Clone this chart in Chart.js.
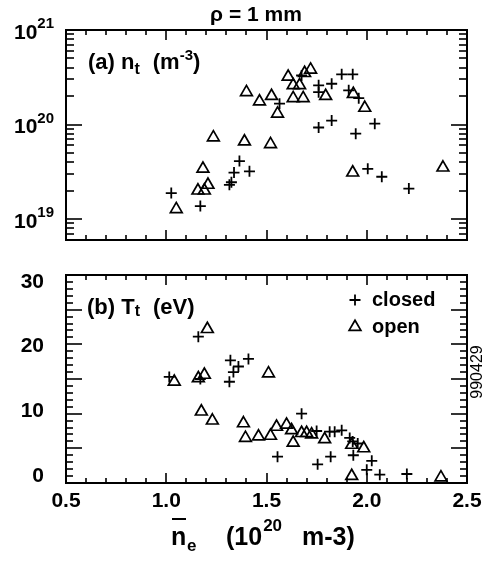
<!DOCTYPE html>
<html>
<head>
<meta charset="utf-8">
<script src="https://cdn.jsdelivr.net/npm/chart.js@4.4.1/dist/chart.umd.min.js"></script>
<style>
  html, body { margin: 0; padding: 0; background: #fff; }
  #wrap { position: relative; width: 482px; height: 562px; }
  canvas { position: absolute; left: 0; }
</style>
</head>
<body>
<div id="wrap">
  <canvas id="topChart" width="482" height="250" style="top:0;width:482px;height:250px"></canvas>
  <canvas id="botChart" width="482" height="312" style="top:250px;width:482px;height:312px"></canvas>
</div>
<script>
// (a) n_t vs line-averaged density, closed divertor
const neClosedA = [1.025, 1.17, 1.315, 1.325, 1.338, 1.365, 1.415, 1.565, 1.675, 1.76, 1.76, 1.825,
  1.875, 1.93, 1.91, 1.96, 1.76, 1.825, 1.945, 2.04, 2.005, 2.075, 2.21];
const ntClosed = [1.88e19, 1.37e19, 2.3e19, 2.45e19, 3.1e19, 4.1e19, 3.2e19, 1.66e20, 3.3e20, 2.6e20, 2.2e20, 2.7e20,
  3.4e20, 3.4e20, 2.3e20, 1.9e20, 9.3e19, 1.1e20, 8.0e19, 1.02e20, 3.4e19, 2.8e19, 2.1e19];

// (a) n_t, open divertor
const neOpenA = [1.05, 1.158, 1.183, 1.19, 1.208, 1.235, 1.39, 1.40, 1.465, 1.52, 1.525, 1.555, 1.608, 1.633,
  1.633, 1.665, 1.683, 1.69, 1.72, 1.795, 1.933, 1.99, 1.93, 2.38];
const ntOpen = [1.27e19, 2.0e19, 3.4e19, 2.0e19, 2.3e19, 7.3e19, 6.6e19, 2.2e20, 1.75e20, 6.2e19, 2.0e20, 1.3e20, 3.2e20, 2.6e20,
  1.9e20, 2.6e20, 1.9e20, 3.5e20, 3.8e20, 2.0e20, 2.1e20, 1.5e20, 3.1e19, 3.5e19];

// (b) T_t, closed divertor
const neClosedB = [1.015, 1.16, 1.17, 1.32, 1.335, 1.36, 1.41, 1.315, 1.555, 1.675, 1.75, 1.755, 1.815, 1.82,
  1.84, 1.875, 1.915, 1.93, 1.955, 1.933, 2.0, 2.025, 2.065, 2.2];
const ttClosed = [15.3, 21.1, 15.0, 17.7, 16.0, 16.8, 17.9, 14.6, 3.8, 10.0, 7.5, 2.7, 7.4, 3.8,
  7.4, 7.6, 6.5, 6.0, 5.7, 4.0, 1.9, 3.2, 1.2, 1.3];

// (b) T_t, open divertor
const neOpenB = [1.04, 1.16, 1.19, 1.205, 1.175, 1.23, 1.385, 1.395, 1.46, 1.52, 1.51, 1.55, 1.6, 1.625,
  1.633, 1.675, 1.70, 1.725, 1.79, 1.925, 1.985, 1.925, 2.37];
const ttOpen = [14.6, 15.1, 15.6, 22.2, 10.3, 9.0, 8.6, 6.5, 6.7, 6.8, 15.8, 8.1, 8.4, 7.6,
  5.8, 7.2, 7.2, 7.0, 6.3, 5.5, 5.0, 1.0, 0.8];

const xTickLabels = ['0.5', '1.0', '1.5', '2.0', '2.5'];
const nTickExps = [19, 20, 21];
const tTickLabels = ['0', '10', '20', '30'];
const legendLabels = ['closed', 'open'];

const FONT = '"Liberation Sans", Arial, Helvetica, sans-serif';
const pts = (xs, ys) => xs.map((x, i) => ({ x: x, y: ys[i] }));

function crossSet(data) {
  return { data: data, pointStyle: 'cross', pointRadius: 5.5, borderWidth: 1.8,
    borderColor: '#000', backgroundColor: '#000', showLine: false };
}
function triSet(data) {
  return { data: data, pointStyle: 'triangle', pointRadius: 6.8, borderWidth: 1.7,
    borderColor: '#000', backgroundColor: 'rgba(0,0,0,0)', showLine: false };
}

function line(ctx, x1, y1, x2, y2) {
  ctx.beginPath(); ctx.moveTo(x1, y1); ctx.lineTo(x2, y2); ctx.stroke();
}

// text made of pieces: [text, size, dy, dx]
function rich(ctx, x, y, parts, align) {
  let w = 0;
  parts.forEach(p => { ctx.font = 'bold ' + p[1] + 'px ' + FONT; w += (p[3] || 0) + ctx.measureText(p[0]).width; });
  let cx = align === 'right' ? x - w : align === 'center' ? x - w / 2 : x;
  ctx.textAlign = 'left';
  ctx.textBaseline = 'middle';
  parts.forEach(p => {
    ctx.font = 'bold ' + p[1] + 'px ' + FONT;
    cx += p[3] || 0;
    ctx.fillText(p[0], cx, y + (p[2] || 0));
    cx += ctx.measureText(p[0]).width;
  });
}

function xTicks(ctx, sx, a) {
  for (let i = 0; i <= 20; i++) {
    const px = Math.round(sx.getPixelForValue(0.5 + i * 0.1));
    const len = i % 5 === 0 ? 10 : 5;
    line(ctx, px, a.bottom, px, a.bottom - len);
    line(ctx, px, a.top, px, a.top + len);
  }
}

const framePlugin = {
  id: 'frame',
  afterDatasetsDraw(chart, args, opts) {
    const ctx = chart.ctx, a = chart.chartArea;
    const sx = chart.scales.x, sy = chart.scales.y;
    ctx.save();
    ctx.strokeStyle = '#000';
    ctx.fillStyle = '#000';
    ctx.lineWidth = 1.6;
    xTicks(ctx, sx, a);
    if (opts.kind === 'log') {
      for (let e = 18; e <= 20; e++) {
        for (let m = 1; m <= 9; m++) {
          const v = m * Math.pow(10, e);
          if (v < sy.min || v > sy.max) continue;
          const py = Math.round(sy.getPixelForValue(v));
          const len = m === 1 ? 16 : 8;
          line(ctx, a.left, py, a.left + len, py);
          line(ctx, a.right, py, a.right - len, py);
        }
      }
    } else {
      for (let v = 0; v <= 30; v++) {
        const py = Math.round(sy.getPixelForValue(v));
        const len = v % 5 === 0 ? 16 : 7;
        line(ctx, a.left, py, a.left + len, py);
        line(ctx, a.right, py, a.right - len, py);
      }
    }
    ctx.lineWidth = 2;
    ctx.strokeRect(a.left, a.top, a.right - a.left, a.bottom - a.top);

    if (opts.kind === 'log') {
      nTickExps.forEach(e => {
        const py = sy.getPixelForValue(Math.pow(10, e));
        rich(ctx, 54, py + 3, [['10', 21, 0], [String(e), 15, -9]], 'right');
      });
      rich(ctx, 256, 15, [['\u03c1 = 1 mm', 21, 0]], 'center');
      rich(ctx, 88, 63, [['(a) n', 22, 0], ['t', 16, 7], ['(m', 22, 0, 13], ['-3', 15, -7], [')', 22, 0]], 'left');
    } else {
      const mid = sy.getPixelForValue(15);
      tTickLabels.forEach(t => {
        const py = mid + (sy.getPixelForValue(Number(t)) - mid) * 0.935;
        rich(ctx, 44, py, [[t, 21, 0]], 'right');
      });
      xTickLabels.forEach(t => {
        rich(ctx, sx.getPixelForValue(Number(t)), 251, [[t, 21, 0]], 'center');
      });
      rich(ctx, 87, 58, [['(b) T', 22, 0], ['t', 16, 4], ['(eV)', 22, 0, 13]], 'left');

      // legend
      const H = Chart.helpers;
      const items = [['cross', 5.5, 50], ['triangle', 6.8, 77]];
      items.forEach((it, i) => {
        ctx.lineWidth = it[0] === 'cross' ? 1.8 : 1.7;
        ctx.fillStyle = 'rgba(0,0,0,0)';
        H.drawPoint(ctx, { pointStyle: it[0], radius: it[1], borderWidth: ctx.lineWidth, rotation: 0 }, 355, it[2]);
        ctx.fillStyle = '#000';
        rich(ctx, 372, it[2], [[legendLabels[i], 20, 0]], 'left');
      });

      // x axis title
      rich(ctx, 171, 288, [['n', 25, 0]], 'left');
      ctx.fillRect(172, 268, 14, 2);
      rich(ctx, 187, 296, [['e', 17, 0]], 'left');
      rich(ctx, 226, 288, [['(10', 25, 0], ['20', 17, -12, 1], ['m-3)', 25, 0, 20]], 'left');

      // figure id
      ctx.save();
      ctx.translate(478, 122);
      ctx.rotate(-Math.PI / 2);
      ctx.font = '16px ' + FONT;
      ctx.textAlign = 'center';
      ctx.textBaseline = 'middle';
      ctx.fillText('990429', 0, 0);
      ctx.restore();
    }
    ctx.restore();
  }
};

const common = {
  responsive: false,
  animation: false,
  devicePixelRatio: 1,
  plugins: { legend: { display: false }, tooltip: { enabled: false } }
};

new Chart(document.getElementById('topChart').getContext('2d'), {
  type: 'scatter',
  data: { datasets: [crossSet(pts(neClosedA, ntClosed)), triSet(pts(neOpenA, ntOpen))] },
  options: Object.assign({}, common, {
    layout: { padding: { left: 66, right: 15, top: 30, bottom: 10 } },
    scales: {
      x: { type: 'linear', min: 0.5, max: 2.5, display: false },
      y: { type: 'logarithmic', min: 6e18, max: 1e21, display: false }
    },
    plugins: Object.assign({}, common.plugins, { frame: { kind: 'log' } })
  }),
  plugins: [framePlugin]
});

new Chart(document.getElementById('botChart').getContext('2d'), {
  type: 'scatter',
  data: { datasets: [crossSet(pts(neClosedB, ttClosed)), triSet(pts(neOpenB, ttOpen))] },
  options: Object.assign({}, common, {
    layout: { padding: { left: 66, right: 15, top: 25, bottom: 79 } },
    scales: {
      x: { type: 'linear', min: 0.5, max: 2.5, display: false },
      y: { type: 'linear', min: 0, max: 30, display: false }
    },
    plugins: Object.assign({}, common.plugins, { frame: { kind: 'lin' } })
  }),
  plugins: [framePlugin]
});
</script>
</body>
</html>
